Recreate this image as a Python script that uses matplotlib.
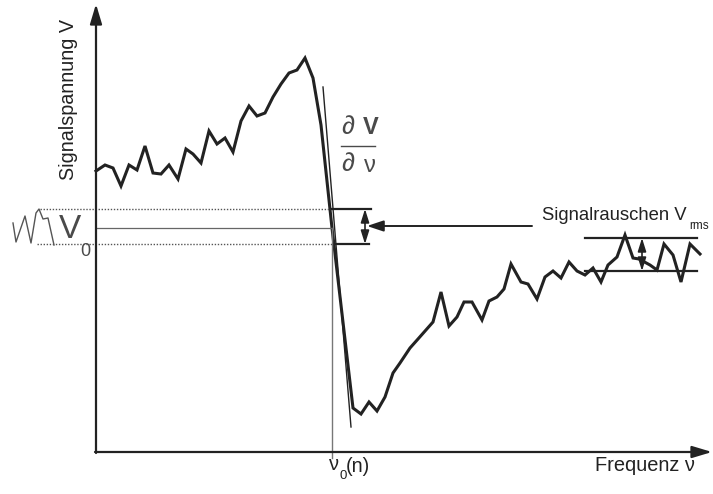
import matplotlib
matplotlib.use('Agg')
import matplotlib.pyplot as plt

plt.rcParams['font.family'] = ['Liberation Sans', 'DejaVu Sans']

# measured resonance curve (canvas units, y grows downwards)
freq = [96, 105, 113, 121, 129, 137, 145, 153, 161, 169, 178, 186, 193, 201,
        209, 217, 225, 233, 241, 249, 257, 265, 273, 281, 289, 297, 305, 313,
        321, 332, 353, 361, 369, 377, 385, 393, 400, 410, 418, 433, 441, 449,
        457, 464, 472, 482, 489, 497, 504, 511, 521, 528, 537, 545, 553, 561,
        569, 577, 585, 593, 601, 608, 617, 625, 633, 639, 650, 657, 664, 673,
        681, 690, 700]
signal = [171, 165, 168, 186, 165, 170, 146, 173, 174, 165, 179, 149, 154, 163,
          131, 144, 138, 152, 121, 106, 116, 113, 97, 84, 73, 70, 58, 78,
          125, 228, 408, 414, 402, 411, 397, 373, 363, 348, 339, 322, 292, 326,
          317, 302, 302, 320, 301, 297, 289, 264, 282, 284, 299, 277, 271, 278,
          262, 271, 275, 268, 282, 265, 257, 235, 258, 259, 265, 270, 244, 255,
          282, 244, 254]

# small noise sketch next to V0
noise_x = [13, 16, 25, 31, 36, 39, 43, 48, 54]
noise_y = [223, 242, 216, 243, 213, 209, 219, 218, 245]

nu0 = 332                 # working point frequency
v0 = 228                  # working point signal
v0_band = (209, 244)      # signal window around V0
rms_band = (238, 271)     # noise band at high frequency
rms_span = (585, 697)
tangent_x = [323, 351]
tangent_y = [87, 427]

ink = '#222222'
soft = '#4a4a4a'

fig = plt.figure(figsize=(7.13, 4.94), dpi=100)
ax = fig.add_axes([0, 0, 1, 1])
ax.set_xlim(0, 713)
ax.set_ylim(494, 0)
ax.axis('off')

# axes with arrow heads
ax.annotate('', xy=(96, 4), xytext=(96, 453),
            arrowprops=dict(arrowstyle='-|>,head_length=1.0,head_width=0.3',
                            color=ink, lw=1.6, mutation_scale=12, shrinkA=0, shrinkB=0))
ax.annotate('', xy=(712, 452), xytext=(95, 452),
            arrowprops=dict(arrowstyle='-|>,head_length=1.0,head_width=0.3',
                            color=ink, lw=1.6, mutation_scale=12, shrinkA=0, shrinkB=0))

# curve and tangent
ax.plot(freq, signal, color=ink, lw=2.2, solid_joinstyle='miter')
ax.plot(tangent_x, tangent_y, color=ink, lw=1.0)

# working point guides
ax.plot([nu0, nu0], [v0, 458], color='#777777', lw=1.0)
ax.plot([96, nu0], [v0, v0], color='#666666', lw=0.9)
for yy, x0 in zip(v0_band, (40, 37)):
    ax.plot([x0, nu0], [yy, yy], color='#555555', lw=1.0, linestyle=(0, (1, 1.2)))
ax.plot(noise_x, noise_y, color='#555555', lw=1.0)

# window bracket on the slope
ax.plot([nu0, 371], [v0_band[0], v0_band[0]], color=ink, lw=1.6)
ax.plot([335, 369], [v0_band[1], v0_band[1]], color=ink, lw=1.6)
ax.annotate('', xy=(365, v0_band[0]), xytext=(365, v0_band[1]),
            arrowprops=dict(arrowstyle='<|-|>,head_length=0.8,head_width=0.25',
                            color=ink, lw=1.2, mutation_scale=10, shrinkA=0, shrinkB=0))
ax.annotate('', xy=(367, 226), xytext=(532, 226),
            arrowprops=dict(arrowstyle='-|>,head_length=0.9,head_width=0.3',
                            color=ink, lw=1.4, mutation_scale=11, shrinkA=0, shrinkB=0))

# noise band
for yy in rms_band:
    ax.plot(rms_span, [yy, yy], color=ink, lw=1.6)
ax.annotate('', xy=(642, rms_band[0]), xytext=(642, rms_band[1]),
            arrowprops=dict(arrowstyle='<|-|>,head_length=0.8,head_width=0.25',
                            color=ink, lw=1.2, mutation_scale=10, shrinkA=0, shrinkB=0))

# labels
ax.text(69, 99, 'Signalspannung V', rotation=90, ha='center', va='center',
        fontsize=14.2, color=ink)
ax.text(59, 229, 'V', ha='left', va='center', fontsize=24, color=soft)
ax.text(80, 251, '0', ha='left', va='center', fontsize=13, color=soft)

ax.text(341, 127, '\u2202', ha='left', va='center', fontsize=19, color=soft)
ax.text(363, 127, 'V', ha='left', va='center', fontsize=17, color=soft,
        fontweight='bold')
ax.plot([341, 375], [146, 146], color=soft, lw=1.0)
ax.text(341, 164, '\u2202', ha='left', va='center', fontsize=19, color=soft)
ax.text(364, 166, '\u03bd', ha='left', va='center', fontsize=17, color=soft)

ax.text(542, 215, 'Signalrauschen V', ha='left', va='center', fontsize=13.3,
        color=ink)
ax.text(689, 226, 'rms', ha='left', va='center', fontsize=8.5, color=ink)

ax.text(329, 464, '\u03bd', ha='left', va='center', fontsize=14.4, color=ink)
ax.text(339, 476, '0', ha='left', va='center', fontsize=9.5, color=ink)
ax.text(346, 466, '(n)', ha='left', va='center', fontsize=14.4, color=ink)
ax.text(595, 465, 'Frequenz \u03bd', ha='left', va='center', fontsize=14.4,
        color=ink)

fig.savefig('out.png', dpi=100)
